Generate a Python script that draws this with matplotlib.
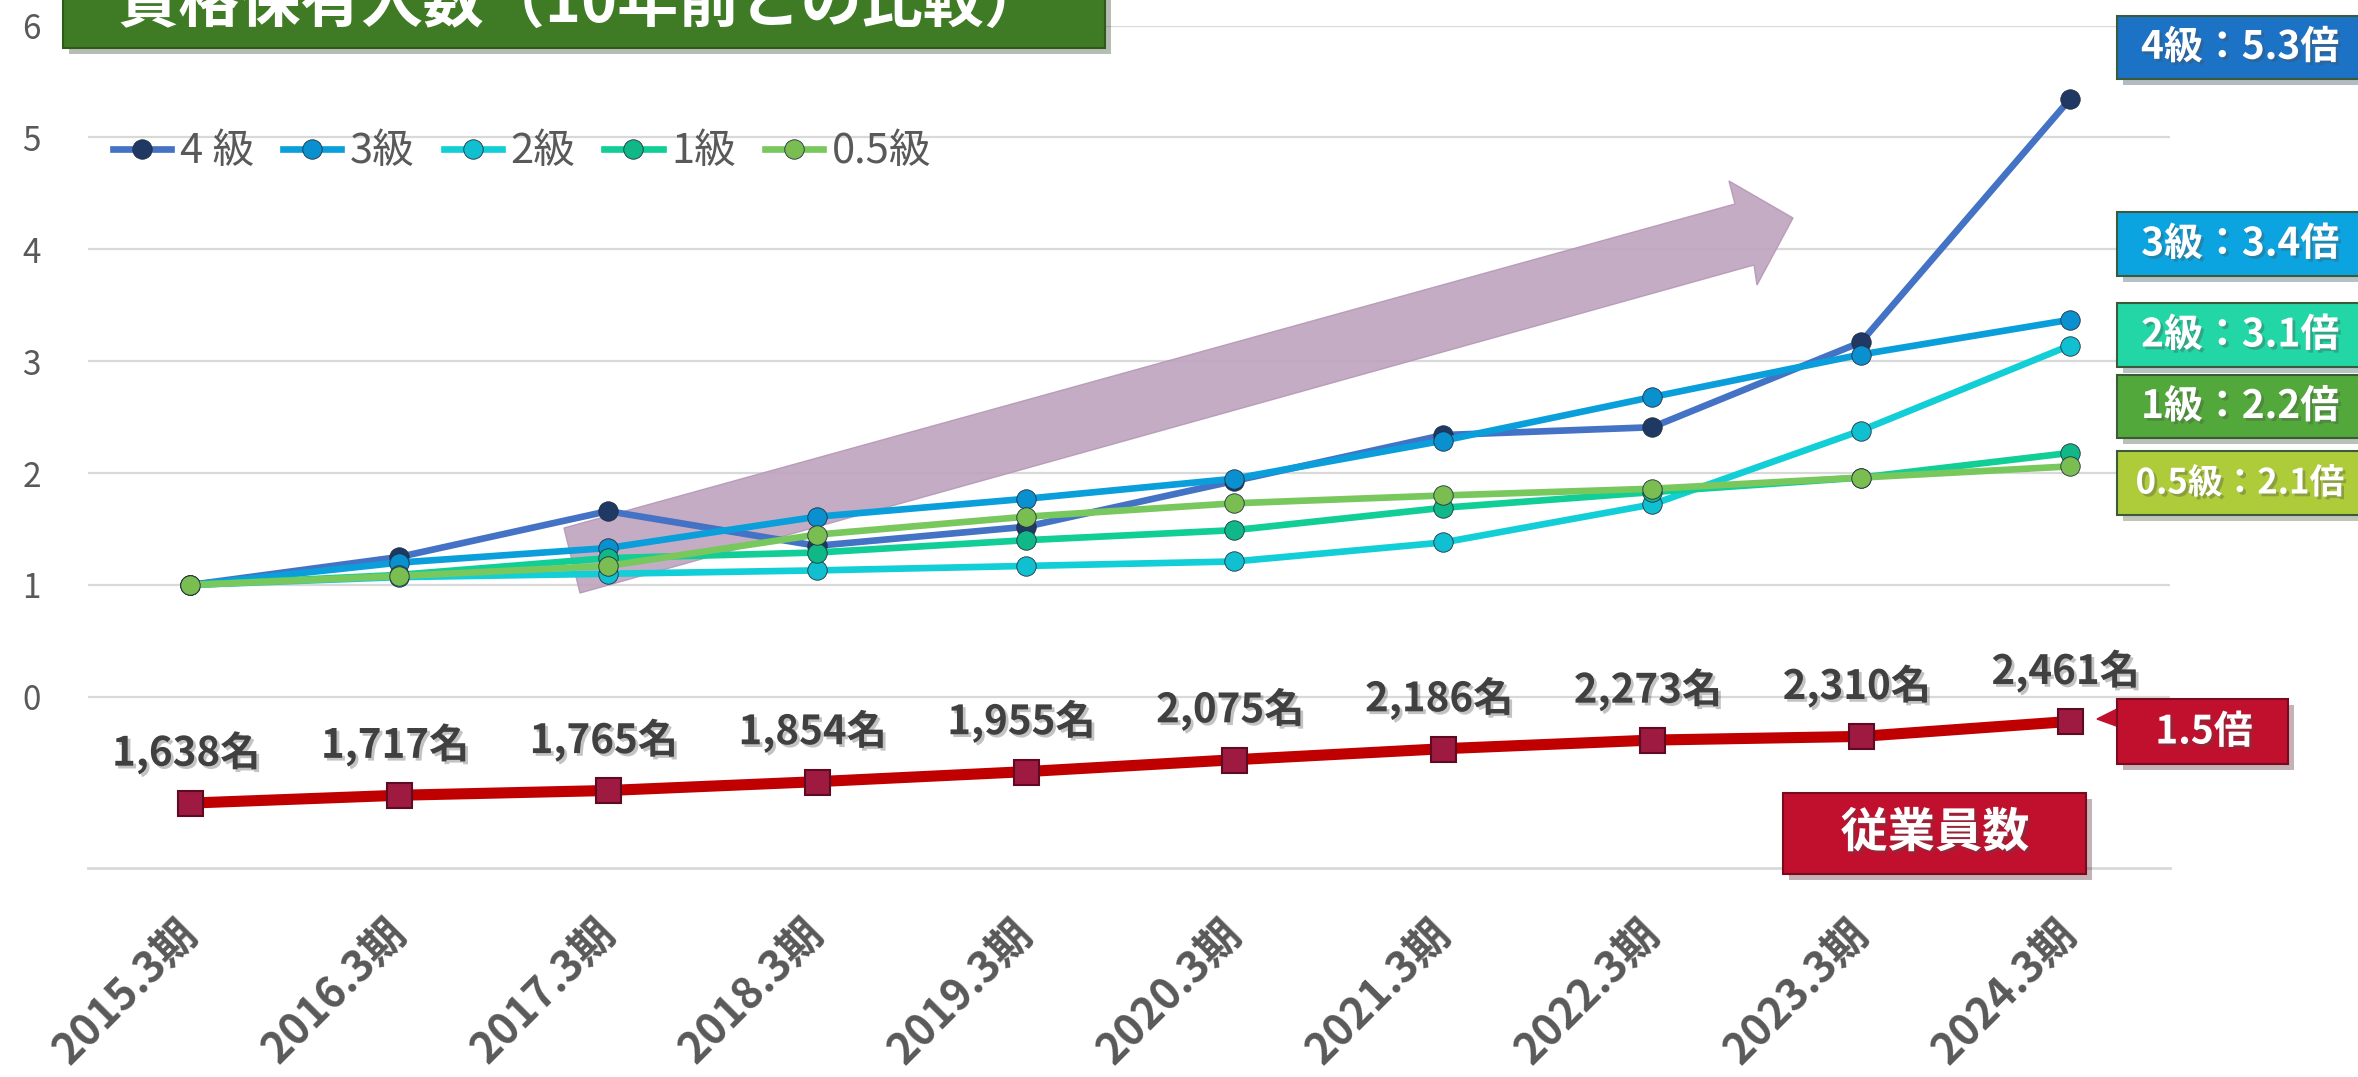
import matplotlib.pyplot as plt
import matplotlib.patheffects as pe
from matplotlib.patches import Rectangle, Polygon

plt.rcParams['font.family'] = ['Noto Sans CJK JP', 'DejaVu Sans']

# ---- data ----
years = ['2015.3期', '2016.3期', '2017.3期', '2018.3期', '2019.3期',
         '2020.3期', '2021.3期', '2022.3期', '2023.3期', '2024.3期']
grade_names = ['4 級', '3級', '2級', '1級', '0.5級']
g4 = [1.00, 1.25, 1.66, 1.35, 1.52, 1.93, 2.34, 2.41, 3.17, 5.34]
g3 = [1.00, 1.20, 1.33, 1.61, 1.77, 1.95, 2.29, 2.68, 3.06, 3.37]
g2 = [1.00, 1.07, 1.10, 1.13, 1.17, 1.21, 1.38, 1.72, 2.38, 3.14]
g1 = [1.00, 1.09, 1.24, 1.29, 1.40, 1.49, 1.69, 1.83, 1.96, 2.18]
g05 = [1.00, 1.08, 1.17, 1.45, 1.61, 1.73, 1.80, 1.86, 1.96, 2.06]
employees = [1638, 1717, 1765, 1854, 1955, 2075, 2186, 2273, 2310, 2461]

box_texts = ['4級：5.3倍', '3級：3.4倍', '2級：3.1倍', '1級：2.2倍', '0.5級：2.1倍']
emp_ratio_text = '1.5倍'
emp_title = '従業員数'
title = '資格保有人数（10年前との比較）'

line_colors = ['#4472C4', '#0A9FDA', '#12CED6', '#10CE96', '#78C85E']
marker_colors = ['#1F3864', '#0A8FCF', '#10C0D0', '#10B888', '#7ABD50']
box_colors = ['#1C72C4', '#0CA4E0', '#22D6A6', '#52A83A', '#AECB3A']

W, H = 2358, 1077
fig = plt.figure(figsize=(W / 100, H / 100), dpi=100)
ax = fig.add_axes([88 / W, (H - 868) / H, (2170 - 88) / W, (868 - 25.6) / H])

x = list(range(len(years)))

# pink trend arrow (pixel coords, y from top)
arrow_pts = [(564, 528), (1735, 204), (1729, 181), (1793, 218),
             (1757, 285), (1754, 265), (580, 593)]
arrow = Polygon([(a / 100, (H - b) / 100) for a, b in arrow_pts], closed=True,
                transform=fig.dpi_scale_trans, facecolor='#BFA3BF', edgecolor='#B598B5',
                alpha=0.9, zorder=1.5)
ax.add_patch(arrow)

series = [g4, g3, g2, g1, g05]
for s, name, lc, mc in zip(series, grade_names, line_colors, marker_colors):
    ax.plot(x, s, color=lc, lw=4.8, marker='o', ms=14, mfc=mc, mec='#203040',
            mew=0.6, label=name, zorder=3)

ax.set_xlim(-0.49, 9.48)
ax.set_ylim(-1.53, 6)
ax.set_yticks(range(0, 7))
ax.yaxis.grid(True, color='#D9D9D9', lw=1.6)
ax.set_axisbelow(True)
for sp in ['top', 'left', 'right']:
    ax.spines[sp].set_visible(False)
ax.spines['bottom'].set_color('#D9D9D9')
ax.spines['bottom'].set_linewidth(2)
ax.tick_params(axis='both', length=0)
ax.tick_params(axis='y', labelsize=24, labelcolor='#595959', pad=34)
ax.set_xticks(x)
ax.set_xticklabels(years, rotation=45, ha='right', va='center', rotation_mode='anchor',
                   fontsize=31, fontweight='bold', color='#595959')
ax.tick_params(axis='x', pad=42)

leg = ax.legend(loc='center left', bbox_to_anchor=(0.012, 0.85), ncol=5, frameon=False,
                fontsize=30, handlelength=1.4, handletextpad=0.2, columnspacing=0.7,
                borderaxespad=0, borderpad=0, labelcolor='#595959')

# employees on a hidden secondary scale
ax2 = ax.twinx()
ax2.set_ylim(984, 9473)
ax2.set_axis_off()
ax2.plot(x, employees, color='#C00000', lw=8, marker='s', ms=18, mfc='#9E1A40',
         mec='#5E0A22', mew=1.5, zorder=3)
for i, v in zip(x, employees):
    ax2.annotate(f'{v:,}名', (i, v), xytext=(-3, 36), textcoords='offset points',
                 ha='center', va='center', fontsize=29, fontweight='bold', color='#404040',
                 path_effects=[pe.withSimplePatchShadow(offset=(2, -2), alpha=0.25)])


def draw_box(x0, y0, x1, y1, color, edge):
    r = Rectangle((x0 / 100, (H - y1) / 100), (x1 - x0) / 100, (y1 - y0) / 100,
                  transform=fig.dpi_scale_trans, facecolor=color, edgecolor=edge, lw=1.5,
                  path_effects=[pe.SimplePatchShadow(offset=(4, -4), alpha=0.3), pe.Normal()],
                  zorder=5)
    fig.add_artist(r)


def box_text(xc, yc, txt, size):
    fig.text(xc / W, 1 - yc / H, txt, ha='center', va='center', fontsize=size,
             fontweight='bold', color='white', zorder=6,
             path_effects=[pe.withSimplePatchShadow(offset=(2, -2), alpha=0.35)])


# title box
draw_box(63, -20, 1105, 48, '#3F7A25', '#2E5A1A')
fig.text(582 / W, 1 - 22 / H, title, ha='center', va='baseline', fontsize=44,
         fontweight='bold', color='white', zorder=6)

# ratio boxes on the right
box_rows = [(15.6, 79), (212, 276), (303, 367), (375, 438), (451, 515)]
for (y0, y1), txt, col in zip(box_rows, box_texts, box_colors):
    draw_box(2117, y0, 2380, y1, col, '#3a5a3a')
    box_text(2240, (y0 + y1) / 2, txt, 25 if txt.startswith('0.5') else 28)

# employee ratio box with pointer
ptr = Polygon([(2119 / 100, (H - 708) / 100), (2097 / 100, (H - 719) / 100),
               (2119 / 100, (H - 727) / 100)], closed=True, transform=fig.dpi_scale_trans,
              facecolor='#C0102E', edgecolor='#C0102E', zorder=5)
fig.add_artist(ptr)
draw_box(2117, 699, 2288, 764, '#C0102E', '#7A0A1E')
box_text(2204, 732, emp_ratio_text, 28)

draw_box(1783, 793, 2086, 874, '#C0102E', '#7A0A1E')
box_text(1935, 833, emp_title, 34)

fig.savefig('out.png', dpi=100)
